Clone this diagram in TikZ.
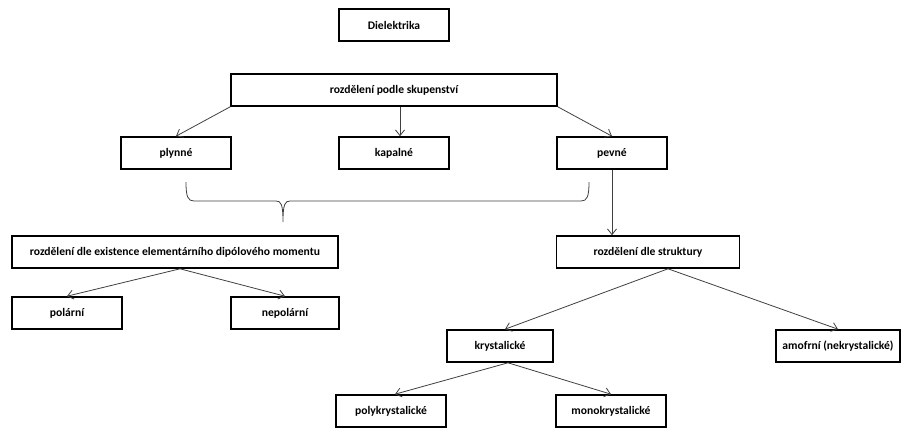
\documentclass[tikz,border=0pt]{standalone}
\usepackage{fontspec}
\setmainfont{Carlito}
\usetikzlibrary{arrows.meta}
\definecolor{linegray}{HTML}{404040}

\begin{document}
\begin{tikzpicture}[
  x=0.75pt,y=-0.75pt,
  box/.style={draw=black,line width=1.2pt,fill=white,align=center,minimum height=24pt,inner sep=0.5pt,font=\fontsize{8.7}{10}\selectfont\bfseries},
  arr/.style={-{Straight Barb[length=1.5mm,width=2.4mm]},line width=0.6pt,draw=linegray},
  brace/.style={line width=0.6pt,draw=linegray}
]
\useasboundingbox (0,0) rectangle (901,429);
% top levels
\node[box,minimum width=82.5pt] (diel) at (394,25) {Dielektrika};
\node[box,minimum width=244.5pt] (skup) at (394,90) {rozdělení podle skupenství};
\node[box,minimum width=82.5pt] (plyn) at (176,153) {plynné};
\node[box,minimum width=82.5pt] (kapal) at (394,153) {kapalné};
\node[box,minimum width=82.5pt] (pevne) at (612,153) {pevné};
% second split
\node[box,minimum width=244.5pt] (dipol) at (175,252) {rozdělení dle existence elementárního dipólového momentu};
\node[box,minimum width=137pt] (strukt) at (648,252) {rozdělení dle struktury};
\node[box,minimum width=82.5pt] (polar) at (67,313) {polární};
\node[box,minimum width=81pt] (nepolar) at (285,313) {nepolární};
\node[box,minimum width=79.5pt] (kryst) at (500,346) {krystalické};
\node[box,minimum width=93pt] (amorf) at (838,346) {amofrní (nekrystalické)};
\node[box,minimum width=82.5pt] (poly) at (391,411) {polykrystalické};
\node[box,minimum width=82.5pt] (mono) at (611,411) {monokrystalické};
% arrows
\draw[arr] (skup.south west) -- (plyn.north);
\draw[arr] ([xshift=4.5pt]skup.south) -- ([xshift=4.5pt]kapal.north);
\draw[arr] (skup.south east) -- (pevne.north);
\draw[arr] (pevne.south) -- (pevne.south |- strukt.north);
\draw[arr] ([xshift=3.75pt]dipol.south) -- (polar.north);
\draw[arr] ([xshift=3.75pt]dipol.south) -- (nepolar.north);
\draw[arr] ([xshift=15pt]strukt.south) -- ([xshift=3.75pt]kryst.north);
\draw[arr] ([xshift=15pt]strukt.south) -- (amorf.north);
\draw[arr] ([xshift=6pt]kryst.south) -- ([xshift=3pt]poly.north);
\draw[arr] ([xshift=6pt]kryst.south) -- (mono.north);
% brace
\coordinate (brL) at (186,182);
\coordinate (brT) at (283,222);
\coordinate (brR) at (589,182);
\draw[brace] (brL) .. controls +(0,15) and +(-6,0) .. ++(8,19) -- (276,201)
  .. controls +(5,0) and +(0,-18) .. (brT)
  .. controls +(0,-18) and +(-5,0) .. (290,201) -- (581,201)
  .. controls +(6,0) and +(0,15) .. (brR);
\end{tikzpicture}
\end{document}
